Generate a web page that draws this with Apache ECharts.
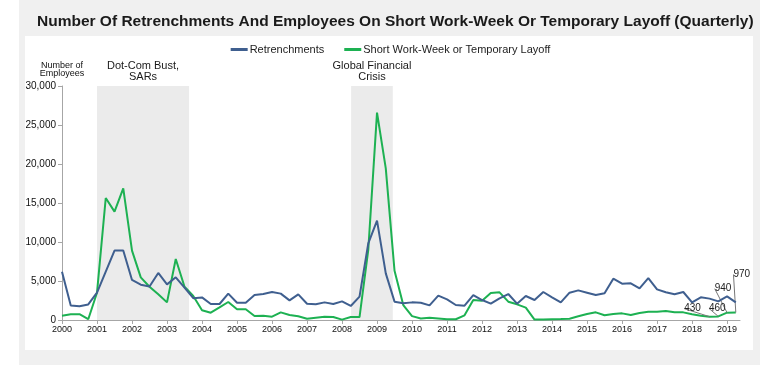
<!DOCTYPE html>
<html><head><meta charset="utf-8">
<script src="https://cdn.jsdelivr.net/npm/echarts@6/dist/echarts.min.js"></script>
<style>
html,body{margin:0;padding:0;background:#fff;}
#wrap{position:relative;width:781px;height:365px;overflow:hidden;}
#frame{position:absolute;left:19px;top:0;width:741px;height:365px;background:#f0f0f0;}
#panel{position:absolute;left:25px;top:36px;width:728px;height:314px;background:#fff;}
#chart{position:absolute;left:0;top:0;width:781px;height:365px;}
</style></head>
<body><div id="wrap"><div id="frame"></div><div id="panel"></div><div id="chart"></div></div>
<script>
const startYear = 2000;
const retrenchments = [
  6200, 1850, 1750, 2000,
  3500, 6200, 8900, 8900,
  5130, 4530, 4300, 6030,
  4570, 5470, 4150, 2800,
  2900, 2050, 2050, 3380,
  2220, 2220, 3200, 3330,
  3590, 3380, 2520, 3290,
  2090, 2010, 2260, 2050,
  2390, 1800, 2990, 9830,
  12730, 5980, 2350, 2140,
  2260, 2220, 1880, 3120,
  2650, 1920, 1840, 3200,
  2560, 2090, 2780, 3330,
  2090, 3080, 2560, 3590,
  2910, 2260, 3500, 3800,
  3500, 3200, 3420, 5300,
  4660, 4700, 4060, 5380,
  3930, 3550, 3290, 3590,
  2260, 2910, 2740, 2390,
  3030, 2260
];
const shortWeek = [
  550, 750, 750, 100,
  3500, 15640, 13890, 16880,
  8890, 5470, 4270, 3290,
  2260, 7820, 4270, 3080,
  1250, 940, 1620, 2310,
  1370, 1370, 510, 560,
  430, 980, 640, 470,
  170, 300, 430, 380,
  50, 380, 380, 9000,
  26580, 19440, 6300, 1920,
  500, 200, 300, 200,
  100, 100, 600, 2560,
  2480, 3460, 3550, 2350,
  2010, 1580, 50, 50,
  100, 130, 170, 480,
  770, 980, 600, 770,
  850, 640, 900, 1070,
  1070, 1150, 980, 980,
  730, 550, 430, 460,
  940, 970
];
const seriesNames = ['Retrenchments', 'Short Work-Week or Temporary Layoff'];
const labelledIdx = [74, 75, 76, 77];
const recessions = [
  {name: 'Dot-Com Bust,\nSARs', from: 2001, to: 2003.63},
  {name: 'Global Financial\nCrisis', from: 2008.26, to: 2009.45}
];
const labelOffsets = {74: [-17, -8], 75: [-1, -8], 76: [-4, -24], 77: [6, -38]};

const xq = i => startYear + i * 0.25;
const retData = retrenchments.map((v, i) => [xq(i), v]);
const swData = shortWeek.map((v, i) => {
  const item = {value: [xq(i), v]};
  if (labelledIdx.includes(i)) {
    item.label = {show: true, position: 'inside', formatter: String(v), fontSize: 10, color: '#222', fontFamily: 'Liberation Sans, Arial'};
  }
  return item;
});

const chart = echarts.init(document.getElementById('chart'), null, {renderer: 'canvas'});
chart.setOption({
  animation: false,
  backgroundColor: 'transparent',
  textStyle: {fontFamily: 'Liberation Sans, Arial, sans-serif'},
  title: {
    text: 'Number Of Retrenchments And Employees On Short Work-Week Or Temporary Layoff (Quarterly)',
    left: 32, top: 9,
    textStyle: {fontSize: 15.5, fontWeight: 'bold', color: '#1a1a1a', fontFamily: 'Liberation Sans, Arial'}
  },
  legend: {
    top: 39, left: 'center', itemWidth: 17, itemHeight: 3, itemGap: 20,
    icon: 'rect',
    textStyle: {fontSize: 11, color: '#222', padding: [0, 0, 0, -3]},
    data: seriesNames
  },
  grid: {left: 62, right: 41, top: 86, bottom: 45},
  xAxis: {
    type: 'value', min: 2000, max: 2019.37, interval: 1,
    axisLine: {lineStyle: {color: '#a6a6a6', width: 1}},
    axisTick: {show: true, length: 4, lineStyle: {color: '#a6a6a6'}},
    axisLabel: {fontSize: 9, color: '#111', margin: 5, showMaxLabel: false,
      formatter: v => Number.isInteger(v) ? String(v) : ''},
    splitLine: {show: false}
  },
  yAxis: {
    type: 'value', min: 0, max: 30000, interval: 5000,
    name: 'Number of\nEmployees', nameLocation: 'end', nameGap: 8,
    nameTextStyle: {fontSize: 9, color: '#111', align: 'center', verticalAlign: 'bottom', lineHeight: 8},
    axisLine: {show: true, lineStyle: {color: '#a6a6a6', width: 1}},
    axisTick: {show: true, length: 4, lineStyle: {color: '#a6a6a6'}},
    axisLabel: {fontSize: 10, color: '#111', margin: 6,
      formatter: v => v.toLocaleString('en-US')},
    splitLine: {show: false}
  },
  series: [
    {
      name: seriesNames[0], type: 'line', data: retData,
      symbol: 'none', color: '#3f5f8f',
      lineStyle: {width: 2, color: '#3f5f8f'},
      z: 3,
      markArea: {
        silent: true,
        itemStyle: {color: '#ebebeb'},
        label: {position: 'top', distance: 4, fontSize: 11, color: '#1a1a1a', lineHeight: 11},
        data: recessions.map(r => [{name: r.name, xAxis: r.from}, {xAxis: r.to}])
      }
    },
    {
      name: seriesNames[1], type: 'line', data: swData,
      symbol: 'circle', symbolSize: 0, showSymbol: true,
      color: '#1db152',
      lineStyle: {width: 2, color: '#1db152'},
      z: 2,
      labelLine: {show: true, lineStyle: {color: '#777', width: 1}},
      labelLayout: p => {
        const o = labelOffsets[p.dataIndex];
        return o ? {dx: o[0], dy: o[1]} : {};
      }
    }
  ]
});
</script></body></html>
